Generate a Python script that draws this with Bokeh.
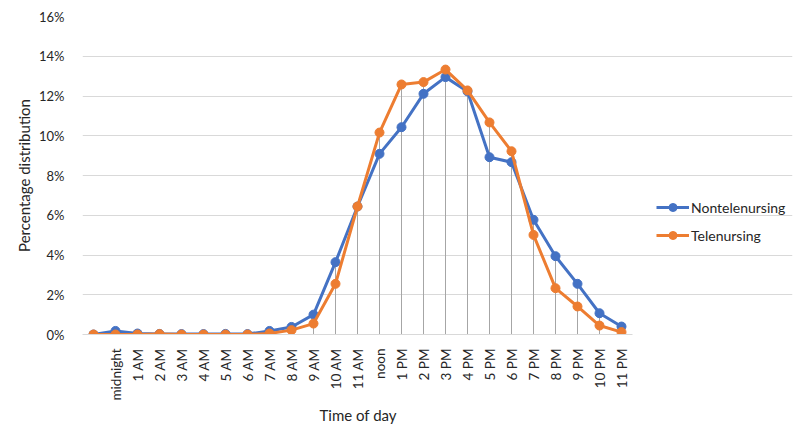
import numpy as np
from bokeh.plotting import figure
from bokeh.models import ColumnDataSource, Range1d, FixedTicker, Legend, LegendItem, NumeralTickFormatter, Title
from bokeh.embed import file_html
from bokeh.resources import INLINE
from math import pi

categories = ["", "midnight", "1 AM", "2 AM", "3 AM", "4 AM", "5 AM", "6 AM", "7 AM", "8 AM",
              "9 AM", "10 AM", "11 AM", "noon", "1 PM", "2 PM", "3 PM", "4 PM", "5 PM",
              "6 PM", "7 PM", "8 PM", "9 PM", "10 PM", "11 PM"]
nontele = [0.0000, 0.0018, 0.0005, 0.0003, 0.0002, 0.0002, 0.0003, 0.0002, 0.0018, 0.0038,
           0.0100, 0.0364, 0.0644, 0.0909, 0.1043, 0.1211, 0.1295, 0.1223, 0.0892,
           0.0867, 0.0577, 0.0394, 0.0255, 0.0107, 0.0040]
tele = [0.0000, 0.0000, 0.0000, 0.0002, 0.0000, 0.0000, 0.0000, 0.0000, 0.0005, 0.0022,
        0.0055, 0.0255, 0.0644, 0.1016, 0.1258, 0.1270, 0.1333, 0.1228, 0.1067,
        0.0922, 0.0501, 0.0233, 0.0141, 0.0045, 0.0012]
y_ticks = [0, 0.02, 0.04, 0.06, 0.08, 0.10, 0.12, 0.14, 0.16]

FONT = "Lato"
BLUE = "#4472C4"
ORANGE = "#ED7D31"
TXT = "#262626"

n = len(categories)
x = list(range(n))
src = ColumnDataSource(dict(x=x, a=nontele, b=tele, top=np.maximum(nontele, tele)))

# frame spans to the right edge so the legend (inside the frame) is not clipped;
# grid and axis are bounded to the category span.
frame_w = 800 - 82 - 8
cat_px = 22
x_end = -0.5 + frame_w / cat_px

p = figure(width=800, height=441, output_backend="svg", toolbar_location=None,
           x_range=Range1d(-0.5, x_end), y_range=Range1d(0, 0.16),
           min_border_left=82, min_border_right=8, min_border_top=16, min_border_bottom=107)
p.outline_line_color = None

p.segment(x0="x", y0=0, x1="x", y1="top", source=src, line_color="#a6a6a6", line_width=1)

r1 = p.line("x", "a", source=src, line_color=BLUE, line_width=3)
c1 = p.scatter("x", "a", source=src, size=9, fill_color=BLUE, line_color=BLUE)
r2 = p.line("x", "b", source=src, line_color=ORANGE, line_width=3)
c2 = p.scatter("x", "b", source=src, size=9, fill_color=ORANGE, line_color=ORANGE)

# axes
p.xaxis.bounds = (-0.5, n - 0.5)
p.xaxis.ticker = FixedTicker(ticks=x)
p.xaxis.major_label_overrides = {i: c for i, c in enumerate(categories)}
p.xaxis.major_label_orientation = pi / 2
p.xaxis.major_tick_line_color = None
p.xaxis.minor_tick_line_color = None
p.xaxis.axis_line_color = "#d9d9d9"
p.xaxis.major_label_standoff = 8
p.xaxis.major_label_text_font = FONT
p.xaxis.major_label_text_font_size = "13.5px"
p.xaxis.major_label_text_color = TXT

# x-axis title centred under the category span
xtitle = Title(text="Time of day", align="left", offset=n * cat_px / 2 - 38, standoff=0,
               text_font=FONT, text_font_style="normal", text_font_size="15px", text_color=TXT)
p.add_layout(xtitle, "below")

p.yaxis.ticker = FixedTicker(ticks=y_ticks)
p.yaxis.formatter = NumeralTickFormatter(format="0%")
p.yaxis.axis_line_color = None
p.yaxis.major_tick_line_color = None
p.yaxis.minor_tick_line_color = None
p.yaxis.major_label_standoff = 12
p.yaxis.major_label_text_font = FONT
p.yaxis.major_label_text_font_size = "13px"
p.yaxis.major_label_text_color = TXT
p.yaxis.axis_label = "Percentage distribution"
p.yaxis.axis_label_text_font = FONT
p.yaxis.axis_label_text_font_style = "normal"
p.yaxis.axis_label_text_font_size = "15px"
p.yaxis.axis_label_text_color = TXT
p.yaxis.axis_label_standoff = 3

p.xgrid.grid_line_color = None
p.ygrid.grid_line_color = "#d9d9d9"
p.ygrid.grid_line_width = 1
p.ygrid.bounds = (-0.5, n - 0.5)

legend = Legend(items=[LegendItem(label="Nontelenursing", renderers=[r1, c1]),
                       LegendItem(label="Telenursing", renderers=[r2, c2])],
                location=(574, 89), glyph_width=33, glyph_height=20, label_standoff=2,
                spacing=8, padding=0, margin=0, border_line_color=None,
                background_fill_alpha=0, label_text_font=FONT, label_text_font_size="14px",
                label_text_color=TXT)
p.add_layout(legend, "center")

open("out.html", "w").write(file_html(p, INLINE))
